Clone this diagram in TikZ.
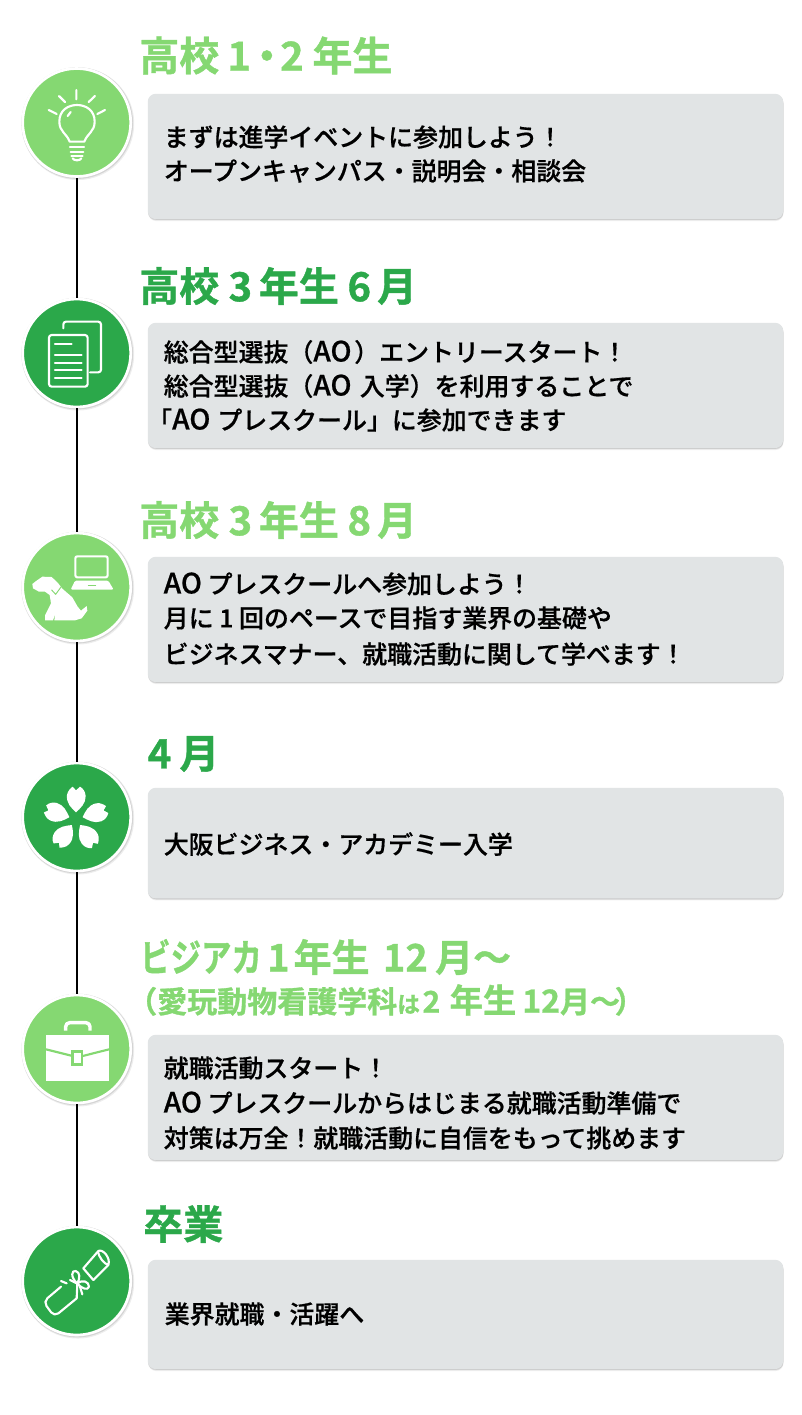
\documentclass[tikz,border=0pt]{standalone}
\usepackage{fontspec}
\usetikzlibrary{shadows}
\setmainfont{Noto Sans CJK JP}
\newfontfamily\bodyfont{Noto Sans CJK JP Medium}[FakeBold=0.6]
\newfontfamily\headfont{Noto Sans CJK JP Bold}[FakeBold=1]
\definecolor{gdark}{HTML}{2BA84A}
\definecolor{glight}{HTML}{85D872}
\definecolor{boxgray}{HTML}{E1E4E5}
\newcommand{\gap}[1]{\hspace{#1pt}}
\newcommand{\aotxt}{{\fontsize{21pt}{20pt}\selectfont AO}}
\tikzset{
  softshadow/.style={
    drop shadow={shadow xshift=.3pt,shadow yshift=-1.5pt,fill=black,opacity=.05},
    drop shadow={shadow xshift=.3pt,shadow yshift=-1pt,fill=black,opacity=.07},
    drop shadow={shadow xshift=.2pt,shadow yshift=-.5pt,fill=black,opacity=.09}},
  ringshadow/.style={
    drop shadow={shadow xshift=.8pt,shadow yshift=-.8pt,shadow scale=1.045,fill=black,opacity=.07},
    drop shadow={shadow xshift=.4pt,shadow yshift=-.4pt,shadow scale=1.035,fill=black,opacity=.10}},
  stepcircle/.style={circle,minimum size=81pt,inner sep=0pt,draw=white,line width=2pt,ringshadow},
  infobox/.style={rectangle,rounded corners=6pt,fill=boxgray,anchor=north west,inner sep=0pt,softshadow},
  bodyline/.style={anchor=west,inner sep=0pt,font=\bodyfont\fontsize{18.7pt}{20pt}\selectfont,text=black},
  headline/.style={anchor=west,inner sep=0pt,font=\headfont\fontsize{30pt}{32pt}\selectfont},
  icon/.style={x=.25pt,y=-.25pt,draw=white,line width=1.6pt,line cap=round,line join=round},
}
\begin{document}
\begin{tikzpicture}[x=.75pt,y=-.75pt]
\useasboundingbox (0,0) rectangle (801,1415);
\fill[white] (0,0) rectangle (801,1415);
% boxes
\node[infobox,minimum width=476.5pt,minimum height=94pt] (b1) at (147.5,93.5) {};
\node[infobox,minimum width=476.5pt,minimum height=94pt] (b2) at (147.5,322.5) {};
\node[infobox,minimum width=476.5pt,minimum height=94pt] (b3) at (147.5,556.5) {};
\node[infobox,minimum width=476.5pt,minimum height=83pt] (b4) at (147.5,787.5) {};
\node[infobox,minimum width=476.5pt,minimum height=94pt] (b5) at (147.5,1034.5) {};
\node[infobox,minimum width=476.5pt,minimum height=82pt] (b6) at (147.5,1259.5) {};
% circles
\node[stepcircle,fill=glight] (c1) at (76.7,122.5) {};
\node[stepcircle,fill=gdark] (c2) at (76.7,353) {};
\node[stepcircle,fill=glight] (c3) at (76.7,587) {};
\node[stepcircle,fill=gdark] (c4) at (76.7,817) {};
\node[stepcircle,fill=glight] (c5) at (76.7,1049) {};
\node[stepcircle,fill=gdark] (c6) at (76.7,1281) {};
\foreach \a/\b in {c1/c2,c2/c3,c3/c4,c4/c5,c5/c6}
  \draw[black,line width=1.5pt] (\a) -- (\b);
% headings
\node[headline,text=glight] (h1) at (139,55.5) {高校\gap{6}1\gap{-3}・\gap{-5}2\gap{6.5}年生};
\node[headline,text=gdark] (h2) at (139,286) {高校\gap{7}3\gap{5}年生\gap{6.5}6\gap{4.5}月};
\node[headline,text=glight] (h3) at (139,520) {高校\gap{7}3\gap{5}年生\gap{6.5}8\gap{4.5}月};
\node[headline,text=gdark] (h4) at (147.5,754) {4\gap{6}月};
\node[headline,text=glight,font=\headfont\fontsize{28.5pt}{30pt}\selectfont] (h5) at (140,957) {\scalebox{.8}[1]{ビジアカ}\gap{4}1\gap{3}年生\gap{10}12\gap{5.5}月〜};
\node[headline,text=glight,font=\headfont\fontsize{22.5pt}{25pt}\selectfont] (h5b) at (127,1000) {（愛玩動物看護学科{\fontsize{17pt}{20pt}\selectfont は}\gap{2}2\gap{7}{\fontsize{25pt}{25pt}\selectfont 年生}\gap{4.5}{\fontsize{24pt}{25pt}\selectfont 12}\gap{0}月〜\gap{-4}）};
\node[headline,text=gdark] (h6) at (143,1224) {卒業};
% body text
\node[bodyline] (t11) at (163.5,137) {まずは進学イベントに参加しよう！};
\node[bodyline] (t12) at (163.5,171) {オープンキャンパス・説明会・相談会};
\node[bodyline] (t21) at (163.5,352) {総合型選抜（\aotxt\gap{2}）エントリースタート！};
\node[bodyline] (t22) at (163.5,386) {総合型選抜（\aotxt\gap{2} 入学）を利用することで};
\node[bodyline] (t23) at (147,420) {「\aotxt\gap{1} プレスクール」に参加できます};
\node[bodyline] (t31) at (163.5,584) {\aotxt{} プレスクールへ参加しよう！};
\node[bodyline] (t32) at (163.5,618) {月に 1 回のペースで目指す業界の基礎や};
\node[bodyline] (t33) at (163.5,654) {ビジネスマナー、就職活動に関して学べます！};
\node[bodyline] (t41) at (163.5,844) {大阪ビジネス・アカデミー入学};
\node[bodyline] (t51) at (163.5,1068) {就職活動スタート！};
\node[bodyline] (t52) at (163.5,1103) {\aotxt{} プレスクールからはじまる就職活動準備で};
\node[bodyline] (t53) at (163.5,1138) {対策は万全！就職活動に自信をもって挑めます};
\node[bodyline] (t61) at (164.5,1314) {業界就職・活躍へ};
% bulb
\begin{scope}[shift={(0,20)},icon]
\draw (229,210)--(229,238) (177,228)--(195,246) (285,228)--(266,246) (146,270)--(170,282) (315,270)--(292,282);
\draw (209,365) .. controls (200,340) and (178,335) .. (178,305) .. controls (178,270) and (205,255) .. (231,255) .. controls (257,255) and (284,270) .. (284,305) .. controls (284,335) and (262,340) .. (253,365) -- cycle;
\draw (203,288)--(212,276);
\draw (210,380)--(252,380) (212,396)--(250,396) (214,408)--(248,408);
\draw (218,415) .. controls (222,423) and (240,423) .. (244,415);
\end{scope}
% documents
\begin{scope}[shift={(0,20)},icon]
\draw[rounded corners=2pt] (190,925)--(190,905)--(303,905)--(303,1057)--(270,1057);
\draw[rounded corners=2pt] (147,945) rectangle (263,1100);
\draw (165,972)--(215,972) (165,1005)--(245,1005) (165,1028)--(245,1028) (165,1050)--(245,1050) (165,1073)--(245,1073);
\end{scope}
% laptop and dog
\begin{scope}[shift={(25,540)},icon]
\draw[rounded corners=1.5pt] (151,49) rectangle (248,112);
\fill[white,draw=none,rounded corners=1pt] (150,122)--(250,122)--(266,149)--(137,149)--cycle;
\draw[glight,line width=.6pt] (190,136)--(212,136);
\fill[white,draw=none] (22,132)--(32,124)--(52,110)--(80,111)--(98,128)--(112,146)--(142,172)--(158,200)--(168,212)--(185,198)--(187,212)--(170,235)--(150,241)--(88,241)--(91,220)--(84,241)--(60,241)--(60,226)--(78,190)--(74,165)--(60,155)--(42,155)--(24,145)--cycle;
\draw[glight,line width=.7pt] (80,150)--(92,163)--(108,141);
\end{scope}
% blossom
\begin{scope}[shift={(0,500)},icon]
\foreach \r in {0,72,144,216,288}
  \fill[white,draw=none,rotate around={\r:(228,958)}] (228,937) .. controls (215,925) and (198,910) .. (201,885) .. controls (203,872) and (212,865) .. (218,860) -- (228,871) -- (240,860) .. controls (250,866) and (256,875) .. (257,888) .. controls (258,910) and (241,925) .. (228,937) -- cycle;
\end{scope}
% briefcase
\begin{scope}[shift={(0,930)},icon]
\draw[line width=2.6pt,rounded corners=3pt,line cap=butt] (197,302)--(197,278)--(270,278)--(270,302);
\fill[white,draw=none] (138,315) rectangle (327,452);
\draw[glight,line width=1.6pt,line cap=butt] (138,358)--(218,378) (248,378)--(327,358);
\fill[glight,draw=none] (214,360) rectangle (250,408);
\fill[white,draw=none] (222,368) rectangle (242,400);
\end{scope}
% diploma
\begin{scope}[shift={(25,1235)},icon]
\draw[rounded corners=4pt] (108,155)--(55,200)--(88,245)--(155,190);
\draw (175,100)--(220,48) (205,135)--(250,90);
\draw (220,48) .. controls (232,40) and (258,68) .. (250,90) .. controls (240,88) and (218,65) .. (220,48);
\draw (175,100)--(205,135);
\draw (157,146) .. controls (135,125) and (140,105) .. (152,108) .. controls (166,112) and (165,130) .. (157,146);
\draw (157,146) .. controls (172,132) and (192,140) .. (192,155) .. controls (188,168) and (170,160) .. (157,146);
\draw (108,138)--(125,145) (135,135)--(157,146);
\draw (157,146)--(155,190) (165,155)--(172,178);
\end{scope}
\end{tikzpicture}
\end{document}
